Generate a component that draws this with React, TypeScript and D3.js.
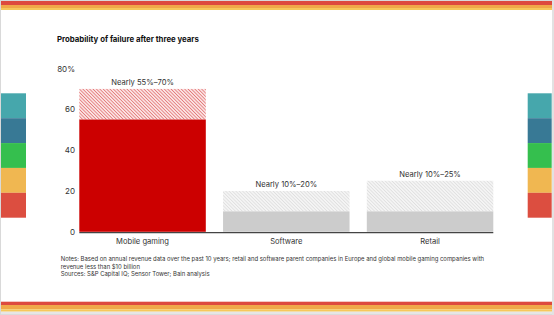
import * as d3 from "d3";
import { useEffect, useRef } from "react";

const categories = ["Mobile gaming", "Software", "Retail"];
const lowValues = [55, 10, 10];
const highValues = [70, 20, 25];
const rangeLabels = ["Nearly 55%–70%", "Nearly 10%–20%", "Nearly 10%–25%"];
const yTicks = [0, 20, 40, 60, 80];
const tabColors = ["#46a7ac", "#387995", "#35bf4e", "#f0b751", "#dc4e40"];
const stripeColors = ["#dd4a3e", "#f0a848", "#f5c85c"];
const notes = [
  "Notes: Based on annual revenue data over the past 10 years; retail and software parent companies in Europe and global mobile gaming companies with",
  "revenue less than $10 billion",
  "Sources: S&P Capital IQ; Sensor Tower; Bain analysis",
];

const W = 554;
const H = 315;
const FONT = "Inter, 'Liberation Sans', Arial, sans-serif";

const App = () => {
  const axisRef = useRef<SVGGElement>(null);

  const x = d3.scaleBand().domain(categories).range([79.3, 493.3]).paddingInner(0.12).paddingOuter(0);
  const y = d3.scaleLinear().domain([0, 80]).range([231.8, 68.5]);

  useEffect(() => {
    const g = d3.select(axisRef.current);
    g.call(
      d3
        .axisLeft(y)
        .tickValues(yTicks)
        .tickSize(0)
        .tickPadding(4)
        .tickFormat((d) => (d === 80 ? "80%" : String(d)))
    );
    g.select(".domain").remove();
    g.selectAll("text").attr("font-family", FONT).attr("font-size", 8).attr("fill", "#333");
  }, []);

  const tabY = d3.scaleBand<number>().domain(d3.range(tabColors.length)).range([93.3, 217.7]);

  return (
    <svg
      width={W}
      height={H}
      style={{ position: "fixed", left: 0, top: 0, display: "block", background: "#fff" }}
      fontFamily={FONT}
    >
      <defs>
        <pattern id="hatchRed" patternUnits="userSpaceOnUse" width={2.4} height={2.4} patternTransform="rotate(-45)">
          <rect width={2.4} height={2.4} fill="#fbe3e3" />
          <line x1={0} y1={0} x2={0} y2={2.4} stroke="#d84848" strokeWidth={1.1} />
        </pattern>
        <pattern id="hatchGray" patternUnits="userSpaceOnUse" width={2.4} height={2.4} patternTransform="rotate(-45)">
          <rect width={2.4} height={2.4} fill="#f4f4f4" />
          <line x1={0} y1={0} x2={0} y2={2.4} stroke="#d6d6d6" strokeWidth={1.1} />
        </pattern>
      </defs>

      {/* frame */}
      <rect x={0.5} y={0.5} width={W - 2} height={H - 1} fill="#fff" stroke="#d9d9d9" />
      <rect x={W - 2} y={0} width={2} height={H} fill="#e2e2e2" />

      {/* top and bottom colour stripes */}
      <rect x={1} y={1} width={W - 3} height={4} fill={stripeColors[0]} />
      <rect x={1} y={5} width={W - 3} height={3} fill={stripeColors[1]} />
      <rect x={1} y={8} width={W - 3} height={2} fill={stripeColors[2]} />
      <rect x={1} y={301.7} width={W - 3} height={3.3} fill={stripeColors[0]} />
      <rect x={1} y={305} width={W - 3} height={4.3} fill={stripeColors[1]} />
      <rect x={1} y={309.3} width={W - 3} height={2.4} fill={stripeColors[2]} />
      <rect x={1} y={311.7} width={W - 3} height={2.5} fill="#e6e6e6" />

      {/* side tabs */}
      {tabColors.map((c, i) => (
        <g key={c}>
          <rect x={1} y={tabY(i)!} width={25} height={tabY.bandwidth()} fill={c} />
          <rect x={527.7} y={tabY(i)!} width={24} height={tabY.bandwidth()} fill={c} />
        </g>
      ))}

      <text x={57} y={42} fontSize={7.8} fontWeight={700} fill="#111">
        Probability of failure after three years
      </text>

      <g ref={axisRef} transform="translate(79,0)" />

      {categories.map((cat, i) => {
        const x0 = x(cat)!;
        const bw = x.bandwidth();
        const red = i === 0;
        return (
          <g key={cat}>
            <rect
              x={x0}
              y={y(highValues[i])}
              width={bw}
              height={y(lowValues[i]) - y(highValues[i])}
              fill={red ? "url(#hatchRed)" : "url(#hatchGray)"}
            />
            <rect
              x={x0}
              y={y(lowValues[i])}
              width={bw}
              height={y(0) - y(lowValues[i])}
              fill={red ? "#cc0000" : "#cccccc"}
            />
            <text
              x={x0 + bw / 2}
              y={y(highValues[i]) - 4}
              textAnchor="middle"
              fontSize={7.6}
              fill="#333"
            >
              {rangeLabels[i]}
            </text>
            <text x={x0 + bw / 2} y={244} textAnchor="middle" fontSize={7.6} fill="#333">
              {cat}
            </text>
          </g>
        );
      })}

      <line x1={79.3} x2={493.3} y1={y(0) + 0.8} y2={y(0) + 0.8} stroke="#444" strokeWidth={1.3} />

      {notes.map((t, i) => (
        <text key={i} x={60.7} y={261.4 + i * 7.4} fontSize={5.95} fill="#333">
          {t}
        </text>
      ))}
    </svg>
  );
};

export default App;
